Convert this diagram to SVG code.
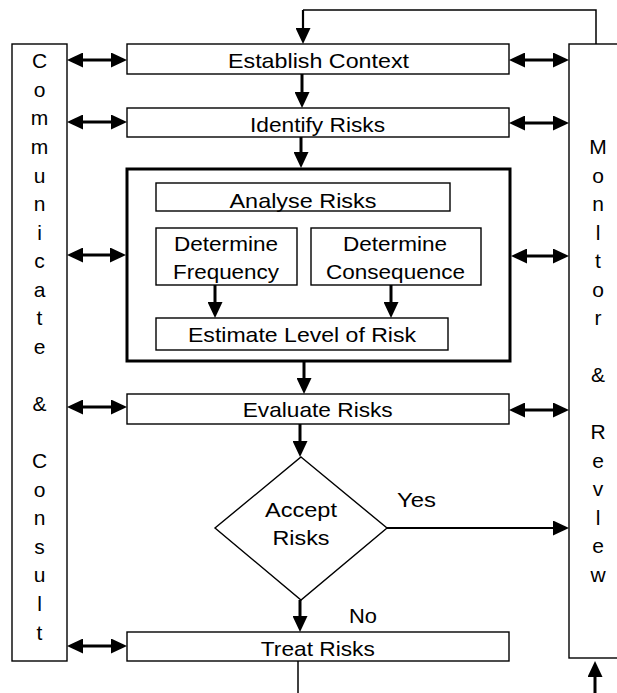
<svg xmlns="http://www.w3.org/2000/svg" width="617" height="693" viewBox="0 0 617 693">
<style>
  .box { fill: #fff; stroke: #000; stroke-width: 1.4; }
  .thick { fill: #fff; stroke: #000; stroke-width: 3; }
  text { font-family: "Liberation Sans", Arial, sans-serif; font-size: 21px; fill: #000; text-anchor: middle; }
  .c { fill: none; stroke: #000; stroke-width: 3; }
  .cm { fill: none; stroke: #000; stroke-width: 2.2; }
  .ct { fill: none; stroke: #000; stroke-width: 1.5; }
  .ah { marker-end: url(#ah); }
  .dbl { marker-start: url(#ah); marker-end: url(#ah); }
</style>
<defs>
  <marker id="ah" viewBox="0 0 16 15" markerWidth="16" markerHeight="15" refX="3" refY="7.5" orient="auto-start-reverse" markerUnits="userSpaceOnUse">
    <path d="M0,0 L16,7.5 L0,15 z" fill="#000"/>
  </marker>
</defs>
<rect width="617" height="693" fill="#fff"/>

<g id="communicate">
  <rect class="box" x="12" y="44" width="55" height="617"/>
  <text x="39.5" y="68">C</text>
  <text x="39.5" y="97">o</text>
  <text x="39.5" y="125">m</text>
  <text x="39.5" y="154">m</text>
  <text x="39.5" y="183">u</text>
  <text x="39.5" y="211">n</text>
  <text x="39.5" y="240">i</text>
  <text x="39.5" y="268">c</text>
  <text x="39.5" y="297">a</text>
  <text x="39.5" y="325">t</text>
  <text x="39.5" y="354">e</text>
  <text x="39.5" y="411">&amp;</text>
  <text x="39.5" y="468">C</text>
  <text x="39.5" y="497">o</text>
  <text x="39.5" y="525">n</text>
  <text x="39.5" y="554">s</text>
  <text x="39.5" y="582">u</text>
  <text x="39.5" y="611">l</text>
  <text x="39.5" y="640">t</text>
</g>

<g id="monitor">
  <rect class="box" x="569" y="44" width="60" height="614"/>
  <text x="598" y="154">M</text>
  <text x="598" y="183">o</text>
  <text x="598" y="211">n</text>
  <text x="598" y="240">l</text>
  <text x="598" y="268">t</text>
  <text x="598" y="297">o</text>
  <text x="598" y="325">r</text>
  <text x="598" y="382">&amp;</text>
  <text x="598" y="439">R</text>
  <text x="598" y="468">e</text>
  <text x="598" y="496">v</text>
  <text x="598" y="525">l</text>
  <text x="598" y="553">e</text>
  <text x="598" y="582">w</text>
</g>

<g id="establish">
  <rect class="box" x="127" y="44" width="382" height="30"/>
  <text x="318.5" y="68" textLength="181" lengthAdjust="spacingAndGlyphs">Establish Context</text>
</g>

<g id="identify">
  <rect class="box" x="127" y="108" width="382" height="29"/>
  <text x="317.5" y="132" textLength="135" lengthAdjust="spacingAndGlyphs">Identify Risks</text>
</g>

<g id="analyse-group">
  <rect class="thick" x="127" y="169" width="383" height="192"/>
</g>

<g id="analyse">
  <rect class="box" x="156" y="183" width="294" height="28"/>
  <text x="303" y="208" textLength="147" lengthAdjust="spacingAndGlyphs">Analyse Risks</text>
</g>

<g id="frequency">
  <rect class="box" x="156" y="228" width="141" height="57"/>
  <text x="226" y="251" textLength="104" lengthAdjust="spacingAndGlyphs">Determine</text>
  <text x="226" y="279" textLength="106" lengthAdjust="spacingAndGlyphs">Frequency</text>
</g>

<g id="consequence">
  <rect class="box" x="311" y="228" width="170" height="57"/>
  <text x="395" y="251" textLength="104" lengthAdjust="spacingAndGlyphs">Determine</text>
  <text x="395.5" y="279" textLength="139" lengthAdjust="spacingAndGlyphs">Consequence</text>
</g>

<g id="estimate">
  <rect class="box" x="156" y="318" width="292" height="32"/>
  <text x="302" y="342" textLength="228" lengthAdjust="spacingAndGlyphs">Estimate Level of Risk</text>
</g>

<g id="evaluate">
  <rect class="box" x="127" y="394" width="382" height="30"/>
  <text x="317.7" y="417" textLength="150" lengthAdjust="spacingAndGlyphs">Evaluate Risks</text>
</g>

<g id="accept">
  <polygon class="box" points="301,457 387,528 301,600 215,528"/>
  <text x="301" y="517" textLength="72" lengthAdjust="spacingAndGlyphs">Accept</text>
  <text x="301" y="545" textLength="57" lengthAdjust="spacingAndGlyphs">Risks</text>
</g>

<g id="treat">
  <rect class="box" x="127" y="632" width="382" height="29"/>
  <text x="317.8" y="656" textLength="114" lengthAdjust="spacingAndGlyphs">Treat Risks</text>
</g>

<g id="connectors">
  <!-- left double arrows -->
  <line class="c dbl" x1="80" y1="60" x2="114" y2="60"/>
  <line class="c dbl" x1="80" y1="122" x2="114" y2="122"/>
  <line class="c dbl" x1="80" y1="255" x2="113" y2="255"/>
  <line class="c dbl" x1="80" y1="407" x2="114" y2="407"/>
  <line class="c dbl" x1="80" y1="646" x2="114" y2="646"/>
  <!-- right double arrows -->
  <line class="c dbl" x1="522" y1="60" x2="556" y2="60"/>
  <line class="c dbl" x1="522" y1="123" x2="556" y2="123"/>
  <line class="c dbl" x1="524" y1="256" x2="556" y2="256"/>
  <line class="c dbl" x1="522" y1="410" x2="556" y2="410"/>
  <!-- vertical flow -->
  <line class="c ah" x1="302" y1="74" x2="302" y2="95"/>
  <line class="c ah" x1="301" y1="137" x2="301" y2="155"/>
  <line class="c ah" x1="215" y1="285" x2="215" y2="305"/>
  <line class="c ah" x1="391" y1="285" x2="391" y2="305"/>
  <line class="c ah" x1="304" y1="362" x2="304" y2="381"/>
  <line class="c ah" x1="300" y1="424" x2="300" y2="444"/>
  <line class="c ah" x1="300" y1="600" x2="300" y2="619"/>
  <!-- yes -->
  <line class="cm ah" x1="387" y1="528" x2="556" y2="528"/>
  <text x="416.5" y="507" textLength="39" lengthAdjust="spacingAndGlyphs">Yes</text>
  <text x="363" y="623" textLength="28" lengthAdjust="spacingAndGlyphs">No</text>
  <!-- top loop -->
  <path class="ct" d="M596,44 V10 H303"/>
  <path class="cm ah" d="M303,10 V31"/>
  <!-- bottom -->
  <line class="ct" x1="298" y1="661" x2="298" y2="693"/>
  <line class="c ah" x1="595" y1="693" x2="595" y2="674"/>
</g>
</svg>
